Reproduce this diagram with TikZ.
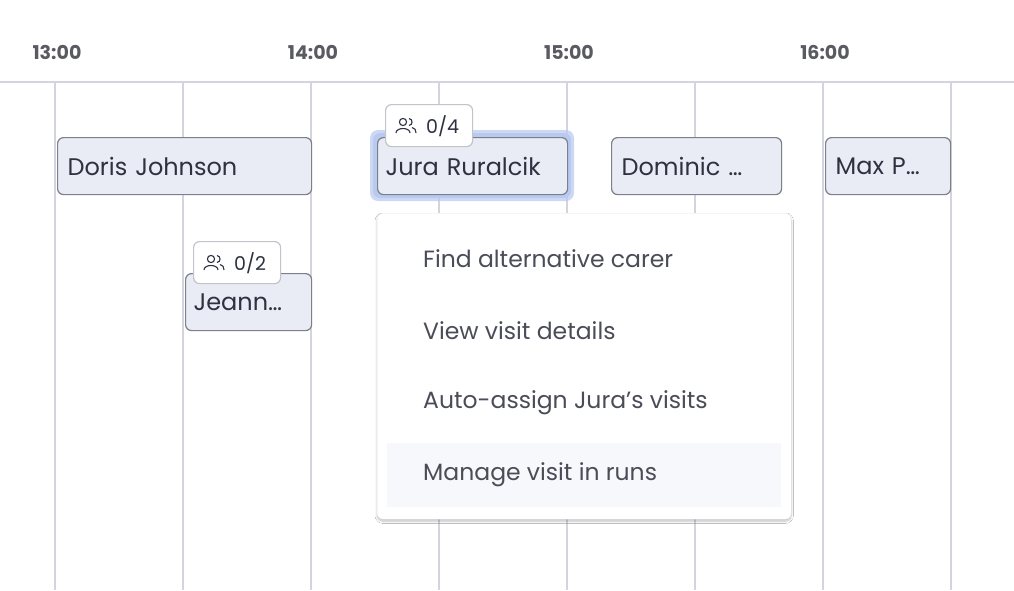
\documentclass[tikz,border=0pt]{standalone}
\usepackage{fontspec}
\setmainfont{Poppins}
\usetikzlibrary{shadows.blur}
\definecolor{grid}{HTML}{D4D4DE}
\definecolor{boxfill}{HTML}{E9ECF4}
\definecolor{boxline}{HTML}{7C7F8C}
\definecolor{txt}{HTML}{2E3140}
\definecolor{menutxt}{HTML}{4A4C58}
\definecolor{hour}{HTML}{5A5A62}
\definecolor{glow}{HTML}{B8CAF0}
\definecolor{hl}{HTML}{F7F8FB}
\tikzset{
  x=1pt,y=-1pt,
  visit/.style={draw=boxline,fill=boxfill,rounded corners=6pt,line width=1.2pt,text=txt,font=\fontsize{24}{27}\selectfont,anchor=north west,inner sep=0pt,align=left},
  badge/.style={draw=grid!80!gray,fill=white,rounded corners=6pt,line width=1.2pt,anchor=north west,inner sep=0pt},
  hourlbl/.style={text=hour,font=\fontsize{19}{22}\selectfont\bfseries},
  item/.style={text=menutxt,font=\fontsize{23.5}{26}\selectfont,anchor=west,inner sep=0pt}
}
\newcommand{\ppl}[2]{%
  \begin{scope}[shift={(#1,#2)},line width=1.1pt,draw=txt]
    \draw (0,-3) circle (3.6);
    \draw (-7,8) .. controls (-7,2) and (7,2) .. (7,8);
    \draw (6,-6.5) .. controls (10,-6) and (10,0) .. (6,0.5);
    \draw (9,2.5) .. controls (12,3) and (13,5) .. (13,8);
  \end{scope}}
\begin{document}
\begin{tikzpicture}
\useasboundingbox (0,0) rectangle (1014,590);
\fill[white] (0,0) rectangle (1014,590);
\foreach \x in {55,183,311,439,567,695,823,951} \draw[grid,line width=1.2pt] (\x,82) -- (\x,590);
\draw[grid,line width=1.5pt] (0,82) -- (1014,82);
\node[hourlbl] (h13) at (57,52) {13:00};
\node[hourlbl] (h14) at (313,52) {14:00};
\node[hourlbl] (h15) at (569,52) {15:00};
\node[hourlbl] (h16) at (825,52) {16:00};
% visits
\node[visit,minimum width=254,minimum height=57,text width=244] (doris) at (57,137) {\hspace*{5pt}Doris Johnson};
\fill[glow,rounded corners=8pt,opacity=0.7] (370,130) rectangle (574,201);
\fill[glow,rounded corners=7pt] (373,133) rectangle (571,198);
\node[visit,minimum width=190,minimum height=57,text width=180] (jura) at (377,137) {\hspace*{3pt}Jura Ruralcik};
\node[visit,minimum width=170,minimum height=57,text width=160] (dom) at (611,137) {\hspace*{5pt}Dominic …};
\node[visit,minimum width=125,minimum height=57,text width=115] (max) at (825,137) {\hspace*{5pt}Max P…};
\node[visit,minimum width=126,minimum height=57,text width=116] (jean) at (185,273) {\hspace*{3pt}Jeann…};
% badges
\node[badge,minimum width=87,minimum height=42] (b1) at (385,104) {};
\ppl{403}{125}
\node[anchor=west,inner sep=0pt,text=txt,font=\fontsize{19}{22}\selectfont] (b1t) at (426,126) {0/4};
\node[badge,minimum width=87,minimum height=42] (b2) at (193,241) {};
\ppl{211}{262}
\node[anchor=west,inner sep=0pt,text=txt,font=\fontsize{19}{22}\selectfont] (b2t) at (234,263) {0/2};
% menu
\node[fill=white,draw=grid!60,rounded corners=6pt,minimum width=414,minimum height=306,anchor=north west,blur shadow={shadow blur steps=8,shadow xshift=0pt,shadow yshift=-2pt,shadow opacity=25}] (menu) at (377,213) {};
\fill[hl] (387,443) rectangle (781,507);
\node[item] (i1) at (423,259) {Find alternative carer};
\node[item] (i2) at (423,331) {View visit details};
\node[item] (i3) at (423,403) {Auto-assign Jura\symbol{39}s visits};
\node[item] (i4) at (423,475) {Manage visit in runs};
\end{tikzpicture}
\end{document}
